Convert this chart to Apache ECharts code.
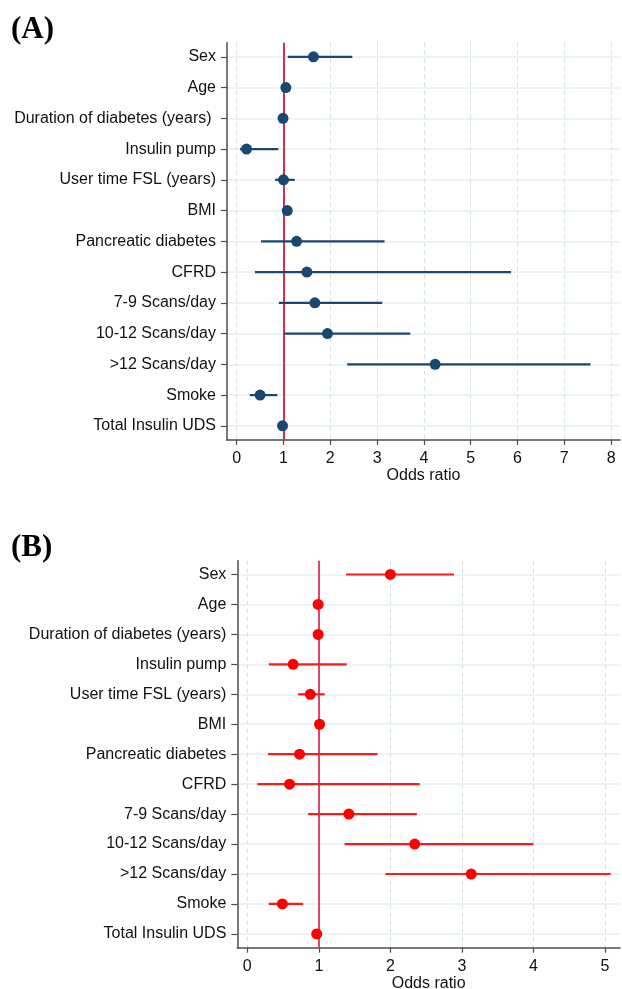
<!DOCTYPE html>
<html>
<head>
<meta charset="utf-8">
<script src="https://cdn.jsdelivr.net/npm/echarts@6/dist/echarts.min.js"></script>
<style>
html,body{margin:0;padding:0;background:#fff;}
#c{width:622px;height:989px;}
</style>
</head>
<body>
<div id="c"></div>
<script>
const categoriesA = ["Sex","Age","Duration of diabetes (years) ","Insulin pump","User time FSL (years)","BMI","Pancreatic diabetes","CFRD","7-9 Scans/day","10-12 Scans/day",">12 Scans/day","Smoke","Total Insulin UDS"];
const categoriesB = ["Sex","Age","Duration of diabetes (years)","Insulin pump","User time FSL (years)","BMI","Pancreatic diabetes","CFRD","7-9 Scans/day","10-12 Scans/day",">12 Scans/day","Smoke","Total Insulin UDS"];

const orA = [1.64,1.05,0.99,0.21,1.00,1.08,1.28,1.50,1.67,1.94,4.24,0.50,0.98];
const loA = [1.09,1.01,0.96,0.07,0.82,1.03,0.52,0.39,0.90,1.02,2.36,0.28,0.96];
const hiA = [2.47,1.09,1.02,0.89,1.24,1.13,3.16,5.86,3.11,3.71,7.56,0.87,1.00];

const orB = [2.00,0.99,0.99,0.64,0.88,1.01,0.73,0.59,1.42,2.34,3.13,0.49,0.97];
const loB = [1.38,0.97,0.97,0.30,0.71,0.98,0.29,0.14,0.85,1.36,1.93,0.30,0.95];
const hiB = [2.89,1.01,1.01,1.39,1.08,1.04,1.82,2.41,2.37,4.00,5.08,0.78,0.99];

const xTicksA = [0,1,2,3,4,5,6,7,8];
const xTicksB = [0,1,2,3,4,5];
const refValue = 1;

const rowIdx = categoriesA.map((_, i) => i);
const FONT = '"Liberation Sans", Arial, sans-serif';
const AXIS = '#4d4d4d';

function xAxisCfg(gridIndex, min, max, ticks) {
  return {
    type: 'value', gridIndex, min, max,
    name: 'Odds ratio', nameLocation: 'middle', nameGap: 27,
    nameTextStyle: {fontFamily: FONT, fontSize: 16, color: '#111'},
    axisLine: {show: true, onZero: false, lineStyle: {color: AXIS, width: 1.5}},
    axisTick: {show: true, length: 5, customValues: ticks, lineStyle: {color: AXIS, width: 1.2}},
    axisLabel: {customValues: ticks, margin: 11, fontFamily: FONT, fontSize: 16, color: '#111'},
    splitLine: {show: true, lineStyle: {color: '#cfdfe8', width: 1, type: [4, 4]}}
  };
}
function yAxisCfg(gridIndex, cats) {
  return {
    type: 'value', gridIndex, min: -0.46, max: 12.46, inverse: true,
    axisLine: {show: true, onZero: false, lineStyle: {color: AXIS, width: 1.5}},
    axisTick: {show: true, length: 6, customValues: rowIdx, lineStyle: {color: AXIS, width: 1.2}},
    axisLabel: {customValues: rowIdx, margin: 11, fontFamily: FONT, fontSize: 16, color: '#111',
      formatter: v => cats[Math.round(v)]},
    splitLine: {show: true, lineStyle: {color: '#e6eff2', width: 1.5, type: 'solid'}}
  };
}
function ciSeries(idx, lo, hi, color) {
  return {
    type: 'custom', xAxisIndex: idx, yAxisIndex: idx, z: 3, silent: true,
    data: rowIdx.map(i => [i, lo[i], hi[i]]),
    encode: {x: [1, 2], y: 0},
    renderItem: (params, api) => {
      const s = api.coord([api.value(1), api.value(0)]);
      const e = api.coord([api.value(2), api.value(0)]);
      return {type: 'line', shape: {x1: s[0], y1: s[1], x2: e[0], y2: e[1]},
        style: {stroke: color, lineWidth: 2.2}};
    }
  };
}
function pointSeries(idx, or, color, refColor) {
  return {
    type: 'scatter', xAxisIndex: idx, yAxisIndex: idx, z: 4, silent: true,
    symbol: 'circle', symbolSize: 11,
    itemStyle: {color: color, opacity: 1},
    data: rowIdx.map(i => [or[i], i]),
    markLine: {
      silent: true, symbol: 'none', z: 2,
      label: {show: false},
      lineStyle: {color: refColor, width: 2, type: 'solid'},
      data: [{xAxis: refValue}]
    }
  };
}

const chart = echarts.init(document.getElementById('c'), null, {renderer: 'canvas'});
chart.setOption({
  backgroundColor: '#fff',
  animation: false,
  title: [
    {text: '(A)', left: 6, top: 9, textStyle: {fontFamily: '"Liberation Serif", "Times New Roman", serif', fontWeight: 'bold', fontSize: 31, color: '#000'}},
    {text: '(B)', left: 6, top: 527, textStyle: {fontFamily: '"Liberation Serif", "Times New Roman", serif', fontWeight: 'bold', fontSize: 31, color: '#000'}}
  ],
  grid: [
    {left: 227, right: 2, top: 42.7, bottom: 549, containLabel: false, outerBoundsMode: 'none'},
    {left: 237.3, right: 2, top: 560.7, bottom: 41.3, containLabel: false, outerBoundsMode: 'none'}
  ],
  xAxis: [xAxisCfg(0, -0.207, 8.19, xTicksA), xAxisCfg(1, -0.14, 5.21, xTicksB)],
  yAxis: [yAxisCfg(0, categoriesA), yAxisCfg(1, categoriesB)],
  series: [
    ciSeries(0, loA, hiA, '#1a476f'),
    pointSeries(0, orA, '#1a476f', '#d62f47'),
    ciSeries(1, loB, hiB, '#ff1a1a'),
    pointSeries(1, orB, '#ff0000', '#d9486a')
  ]
});
</script>
</body>
</html>
